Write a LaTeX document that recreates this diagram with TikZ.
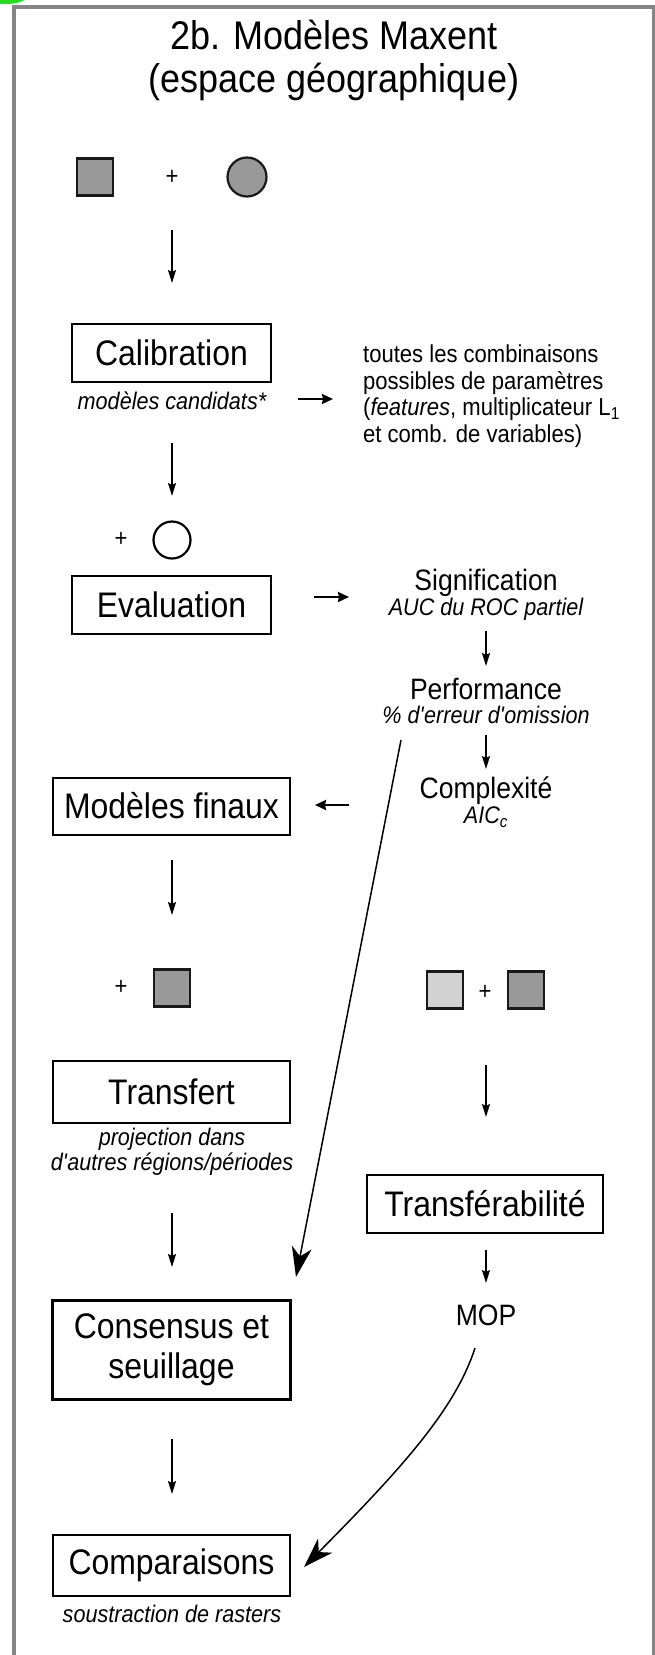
\documentclass[tikz,border=0pt]{standalone}
\usepackage{fontspec}
\setmainfont[FakeStretch=0.9]{Liberation Sans}
\usetikzlibrary{arrows.meta}
\definecolor{framegray}{HTML}{858585}
\definecolor{midgray}{HTML}{999999}
\definecolor{palegray}{HTML}{D3D3D3}
\definecolor{glowgreen}{HTML}{22DD22}
\newcommand{\fTitle}{\fontsize{40bp}{47bp}\selectfont}
\newcommand{\fBox}{\fontsize{35.5bp}{40bp}\selectfont}
\newcommand{\fMid}{\fontsize{29.5bp}{32bp}\selectfont}
\newcommand{\fSub}{\fontsize{24bp}{25bp}\selectfont\itshape}
\newcommand{\fRight}{\fontsize{24.5bp}{26.5bp}\selectfont}
\newcommand{\apos}{\XeTeXglyph\XeTeXcharglyph"0027\relax}
\tikzset{
  box/.style={draw=black, line width=2bp, minimum width=237bp, minimum height=58bp, inner sep=0pt, font=\fBox, align=center},
  sbox/.style={box, minimum width=199bp},
  txt/.style={inner sep=0pt, align=center},
  sq/.style={draw=black!90, line width=2.2bp, minimum width=36bp, minimum height=37bp, inner sep=0pt},
  arr/.style={line width=1.4bp, -{Stealth[length=13bp,width=8bp,inset=2bp]}},
  harr/.style={line width=2.2bp, -{Stealth[length=11bp,width=10bp,inset=1bp]}},
  bigarr/.style={line width=1.5bp, -{Stealth[length=30bp,width=20bp,inset=9bp]}},
}
\begin{document}
\begin{tikzpicture}[x=1bp,y=-1bp]
\useasboundingbox (0,0) rectangle (655,1655);
\clip (0,0) rectangle (655,1655);
\fill[white] (0,0) rectangle (655,1655);
\fill[glowgreen] (6,-12) ellipse (28 and 16);
\draw[framegray, line width=4bp] (14,1700) -- (14,7) -- (653.5,7) -- (653.5,1700);

% title
\node[txt, font=\fTitle] (title1) at (334,35) {2b. Modèles Maxent};
\node[txt, font=\fTitle] (title2) at (334,82) {(espace géographique)};

% inputs
\node[sq, fill=midgray] (occ) at (95,177) {};
\node[txt, font=\fRight] (plusA) at (172,177) {+};
\node[draw=black!90, line width=2.2bp, fill=midgray, circle, minimum size=39bp, inner sep=0pt] (env) at (247,177) {};

\coordinate (a1s) at (172,230);
\coordinate (a1e) at (172,283);
\draw[arr] (a1s) -- (a1e);

% calibration
\node[sbox] (calib) at (171.5,353) {Calibration};
\node[txt, font=\fSub] (calibsub) at (172,401) {modèles candidats*};
\coordinate (h1s) at (298,399);
\coordinate (h1e) at (333,399);
\draw[harr] (h1s) -- (h1e);
\node[txt, font=\fRight, anchor=west, align=left] (combi) at (363,396)
  {toutes les combinaisons\\possibles de paramètres\\(\textit{features}, multiplicateur L\textsubscript{1}\\et comb. de variables)};

\coordinate (a2s) at (172,443);
\coordinate (a2e) at (172,496);
\draw[arr] (a2s) -- (a2e);

\node[txt, font=\fRight] (plusB) at (121,539) {+};
\node[draw=black, line width=2.2bp, fill=white, circle, minimum size=37bp, inner sep=0pt] (indep) at (172,540) {};

% evaluation
\node[sbox] (evalu) at (171.5,605) {Evaluation};
\coordinate (h2s) at (314,597);
\coordinate (h2e) at (349,597);
\draw[harr] (h2s) -- (h2e);

\node[txt, font=\fMid] (signif) at (486,583) {Signification};
\node[txt, font=\fSub] (signifsub) at (486,609) {AUC du ROC partiel};
\coordinate (a3s) at (486,631);
\coordinate (a3e) at (486,666);
\draw[arr] (a3s) -- (a3e);
\node[txt, font=\fMid] (perf) at (486,689) {Performance};
\node[txt, font=\fSub] (perfsub) at (486,715) {\% d\apos erreur d\apos omission};
\coordinate (a4s) at (486,735);
\coordinate (a4e) at (486,769);
\draw[arr] (a4s) -- (a4e);
\node[txt, font=\fMid] (compl) at (486,791) {Complexité};
\node[txt, font=\fSub] (complsub) at (486,817) {AIC\textsubscript{c}};

\coordinate (h3s) at (349,805);
\coordinate (h3e) at (315,805);
\draw[harr] (h3s) -- (h3e);

% final models
\node[box, minimum height=57bp] (final) at (171.5,806) {Modèles finaux};
\coordinate (a5s) at (172,860);
\coordinate (a5e) at (172,915);
\draw[arr] (a5s) -- (a5e);

\node[txt, font=\fRight] (plusC) at (121,987) {+};
\node[sq, fill=midgray] (envB) at (172,988) {};

\node[sq, fill=palegray] (envC) at (445,990) {};
\node[txt, font=\fRight] (plusD) at (485,992) {+};
\node[sq, fill=midgray] (envD) at (526,990) {};

\coordinate (a6s) at (486,1065);
\coordinate (a6e) at (486,1117);
\draw[arr] (a6s) -- (a6e);

% transfer
\node[box, minimum height=62bp] (transf) at (171.5,1092) {Transfert};
\node[txt, font=\fSub] (transfsub) at (172,1152) {projection dans\\d\apos autres régions/périodes};

\node[box, minimum width=236bp] (transfer) at (485,1204) {Transférabilité};
\coordinate (a7s) at (486,1250);
\coordinate (a7e) at (486,1283);
\draw[arr] (a7s) -- (a7e);
\node[txt, font=\fMid] (mop) at (486,1315) {MOP};

\coordinate (a8s) at (172,1213);
\coordinate (a8e) at (172,1267);
\draw[arr] (a8s) -- (a8e);

% consensus
\node[box, line width=3bp, minimum height=99bp] (cons) at (171.5,1349.5) {Consensus et\\seuillage};
\coordinate (a9s) at (172,1439);
\coordinate (a9e) at (172,1494);
\draw[arr] (a9s) -- (a9e);

% comparisons
\node[box, minimum height=61bp] (comp) at (171.5,1565.5) {Comparaisons};
\node[txt, font=\fSub] (compsub) at (172,1614) {soustraction de rasters};

% long arrows
\coordinate (l1s) at (401,740);
\coordinate (l1e) at (296,1277);
\draw[bigarr] (l1s) -- (l1e);
\coordinate (l2s) at (475,1348);
\coordinate (l2e) at (304,1567);
\draw[bigarr] (l2s) .. controls (455,1410) and (400,1470) .. (l2e);
\end{tikzpicture}
\end{document}
